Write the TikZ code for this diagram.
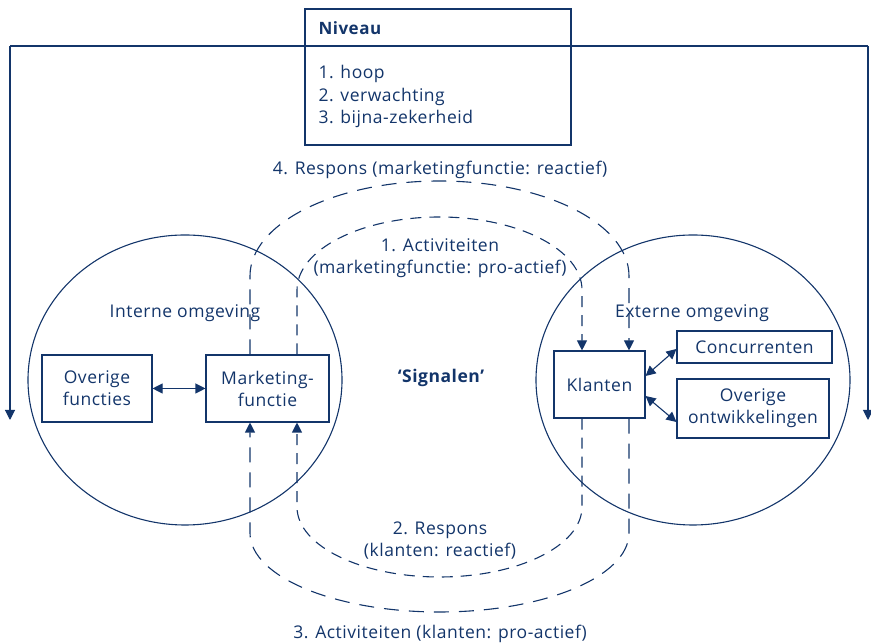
\documentclass[tikz,border=0pt]{standalone}
\usepackage{fontspec}
\setmainfont[LetterSpace=3]{Open Sans}
\usetikzlibrary{arrows.meta}
\definecolor{navy}{HTML}{13356A}
\begin{document}
\begin{tikzpicture}[x=1pt,y=1pt,
  every node/.style={text=navy,font=\fontsize{17.5}{22}\selectfont},
  box/.style={draw=navy,line width=1.1pt,align=center,inner sep=0pt},
  solidline/.style={draw=navy,line width=1.1pt},
  tip/.style={-{Triangle[width=10pt,length=10pt]}},
  dtip/.style={{Triangle[width=10pt,length=10pt]}-{Triangle[width=10pt,length=10pt]}},
  outerflow/.style={draw=navy,line width=1.1pt,dash pattern=on 15pt off 10pt,tip},
  innerflow/.style={draw=navy,line width=1.1pt,dash pattern=on 11pt off 8pt,tip}]
\useasboundingbox (0,0) rectangle (871,644);

% feedback frame around the whole model
\coordinate (fL) at (10,224);
\coordinate (fR) at (868,224);
\draw[solidline,tip] (868,598) -- (fR);
\draw[solidline,tip] (10,598) -- (fL);
\draw[solidline] (10,598) -- (868,598);

% level box
\node[box,minimum width=266pt,minimum height=136pt] (niv) at (438,567) {};
\node[font=\fontsize{17}{22}\selectfont\bfseries,anchor=west] (nivt) at (315,616) {Niveau};
\node[anchor=west] (n1) at (315,570) {1. hoop};
\node[anchor=west] (n2) at (315,547) {2. verwachting};
\node[anchor=west] (n3) at (315,525) {3. bijna-zekerheid};

% environments
\draw[solidline] (185,264) ellipse[x radius=157,y radius=145];
\draw[solidline] (693,264) ellipse[x radius=157,y radius=145];
\node (intern) at (185,331) {Interne omgeving};
\node (extern) at (692,331) {Externe omgeving};

% boxes
\node[box,minimum width=110pt,minimum height=67pt] (ovf) at (97,255.5) {Overige\\functies};
\node[box,minimum width=123pt,minimum height=67pt] (mkt) at (267.5,255.5) {Marketing-\\functie};
\node[box,minimum width=91pt,minimum height=67pt] (kl) at (599.5,259.5) {Klanten};
\node[box,minimum width=155pt,minimum height=32pt] (conc) at (754.5,297) {Concurrenten};
\node[box,minimum width=152pt,minimum height=59pt] (ovo) at (753,235.5) {Overige\\ontwikkelingen};

\node[font=\fontsize{17.5}{22}\selectfont\bfseries] (sig) at (441,266) {‘Signalen’};

% mutual influence
\draw[solidline,dtip] (ovf.east) -- (mkt.west);
\draw[solidline,dtip] (kl.east |- 0,268) -- (conc.west |- 0,295);
\draw[solidline,dtip] (kl.east |- 0,248) -- (ovo.west |- 0,222);

% signal loops
\coordinate (oL) at (250,0);
\coordinate (oR) at (629,0);
\coordinate (iL) at (297,0);
\coordinate (iR) at (582,0);
\draw[outerflow] (kl.south -| oR) -- (629,111)
  arc[start angle=0,end angle=-180,x radius=189.5,y radius=79] -- (mkt.south -| oL);
\draw[outerflow] (mkt.north -| oL) -- (250,368)
  arc[start angle=180,end angle=0,x radius=189.5,y radius=95] -- (kl.north -| oR);
\draw[innerflow] (mkt.north -| iL) -- (297,354)
  arc[start angle=180,end angle=0,x radius=142.5,y radius=73] -- (kl.north -| iR);
\draw[innerflow] (kl.south -| iR) -- (582,137)
  arc[start angle=0,end angle=-180,x radius=142.5,y radius=70] -- (mkt.south -| iL);

% loop labels
\node (l4) at (440,474) {4. Respons (marketingfunctie: reactief)};
\node[align=center] (l1) at (440,385.5) {1. Activiteiten\\(marketingfunctie: pro-actief)};
\node[align=center] (l2) at (440,103) {2. Respons\\(klanten: reactief)};
\node (l3) at (440,10) {3. Activiteiten (klanten: pro-actief)};
\end{tikzpicture}
\end{document}
